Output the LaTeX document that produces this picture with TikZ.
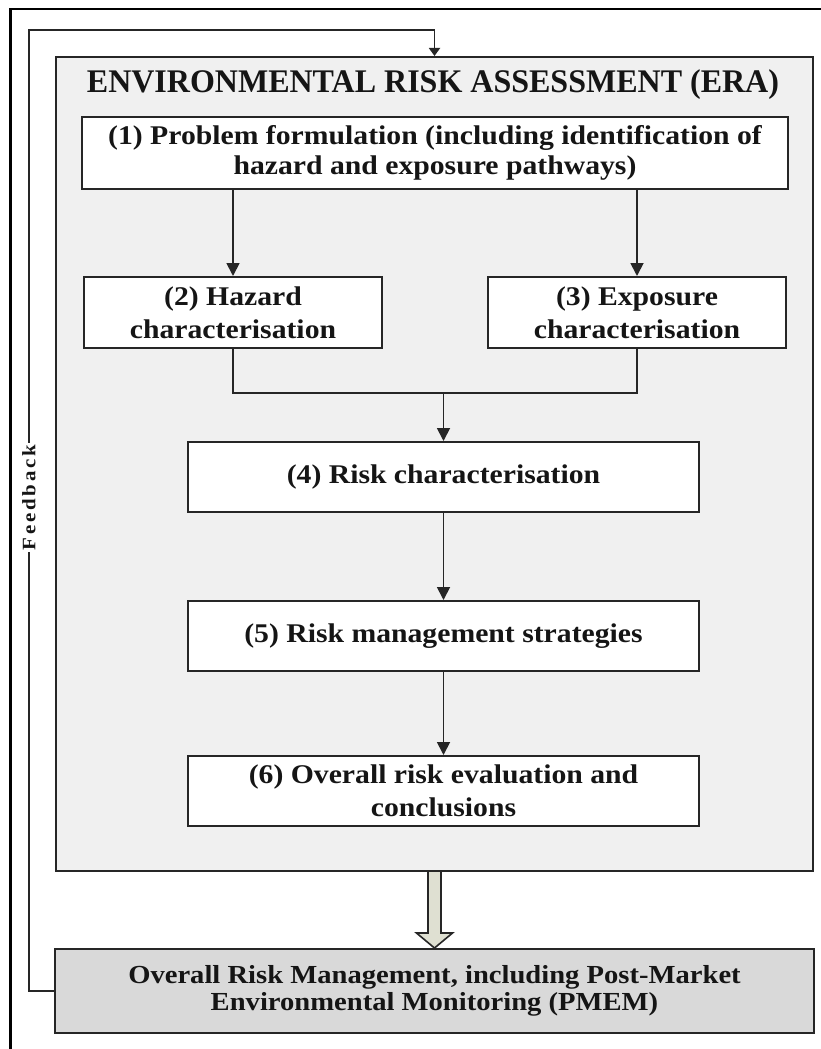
\documentclass[tikz,border=0pt]{standalone}
\usepackage{fontspec}
\setmainfont{Liberation Serif}[FakeStretch=1.1]
\newfontfamily\ttlfont{Liberation Serif}[FakeStretch=0.97]
\usetikzlibrary{arrows.meta,calc}
\definecolor{eragray}{HTML}{F0F0F0}
\definecolor{botgray}{HTML}{D9D9D9}
\definecolor{hollowfill}{HTML}{DFE0D2}
\definecolor{edge}{HTML}{262626}
\definecolor{ink}{HTML}{151515}
\begin{document}
\begin{tikzpicture}[x=1pt,y=-1pt,
  box/.style={draw=edge, line width=2pt, fill=white, align=center, text=ink,
    font=\bfseries\fontsize{27}{33}\selectfont, inner sep=0pt},
  conn/.style={draw=edge, line width=1.8pt},
  arr/.style={conn, -{Triangle[width=13pt,length=13pt]}},
  fbarr/.style={conn, -{Triangle[width=11pt,length=8pt]}},
]
\useasboundingbox (0,0) rectangle (821,1049);
\fill[white] (0,0) rectangle (821,1049);
\draw[line width=2.4pt, black] (10.5,1049) -- (10.5,9) -- (821,9);

% ERA container
\node[draw=edge, line width=2pt, fill=eragray, minimum width=757pt, minimum height=814pt, inner sep=0pt] (era) at (434.5,464) {};
\node[font=\ttlfont\bfseries\fontsize{33}{38}\selectfont, text=ink, anchor=base] (title) at (433,92.5) {ENVIRONMENTAL RISK ASSESSMENT (ERA)};

% boxes
\node[box, minimum width=706pt, minimum height=72pt, font=\bfseries\fontsize{27}{30}\selectfont] (b1) at (435,153) {(1) Problem formulation (including identification of\\hazard and exposure pathways)};
\node[box, minimum width=298pt, minimum height=71pt] (b2) at (233,312.5) {(2) Hazard\\characterisation};
\node[box, minimum width=298pt, minimum height=71pt] (b3) at (637,312.5) {(3) Exposure\\characterisation};
\node[box, minimum width=511pt, minimum height=70pt] (b4) at (443.5,477) {(4) Risk characterisation};
\node[box, minimum width=511pt, minimum height=70pt] (b5) at (443.5,636) {(5) Risk management strategies};
\node[box, minimum width=511pt, minimum height=70pt] (b6) at (443.5,791) {(6) Overall risk evaluation and\\conclusions};
\node[box, fill=botgray, minimum width=759pt, minimum height=84pt, font=\bfseries\fontsize{26}{27}\selectfont] (bot) at (434.5,991) {Overall Risk Management, including Post-Market\\Environmental Monitoring (PMEM)};

% connectors
\draw[arr] (b1.south -| b2.north) -- (b2.north);
\draw[arr] (b1.south -| b3.north) -- (b3.north);
\coordinate (j) at ($(b2.south)+(0,44)$);
\draw[conn] (b2.south) -- (b2.south |- j) -- (b3.south |- j) -- (b3.south);
\draw[arr] (b4.north |- j) -- (b4.north);
\draw[arr] (b4.south) -- (b5.north);
\draw[arr] (b5.south) -- (b6.north);

% hollow arrow
\draw[draw=edge, line width=1.6pt, fill=hollowfill]
  ($(era.south)+(-6.5,0)$) -- ($(bot.north)+(-6.5,-15)$) -- ($(bot.north)+(-18,-15)$) -- (bot.north)
  -- ($(bot.north)+(18,-15)$) -- ($(bot.north)+(6.5,-15)$) -- ($(era.south)+(6.5,0)$);

% feedback loop
\coordinate (fbc) at (29,30);
\draw[fbarr] (bot.west) -- (bot.west -| fbc) -- (fbc) -- (fbc -| era.north) -- (era.north);
\node[rotate=90, fill=white, inner sep=1.5pt, text=ink,
  font=\bfseries\fontsize{19}{19}\selectfont\addfontfeatures{LetterSpace=15}] (fb) at (29,497.5) {Feedback};
\end{tikzpicture}
\end{document}
